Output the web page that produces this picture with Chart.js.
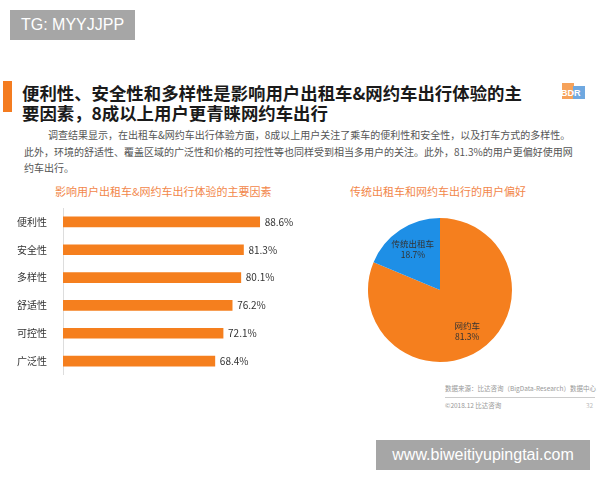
<!DOCTYPE html>
<html><head><meta charset="utf-8">
<script src="https://cdn.jsdelivr.net/npm/chart.js@4"></script>
<style>
html,body{margin:0;padding:0;background:#fff;width:600px;height:480px;overflow:hidden;font-family:"Noto Sans CJK SC","Noto Sans",sans-serif;}
.abs{position:absolute;white-space:nowrap;}
#tg{left:10px;top:10px;width:125px;height:30px;background:#a6a6a6;color:#fff;font:16px "Liberation Sans",Arial,sans-serif;line-height:30px;text-align:center;}
#wm{left:376px;top:440px;width:214px;height:30px;background:#a6a6a6;color:#fff;font:16px "Liberation Sans",Arial,sans-serif;line-height:30px;text-align:center;}
#obar{left:3px;top:81px;width:9px;height:31px;background:#F47C20;}
#title{left:22px;top:83px;font-weight:bold;font-size:17.4px;line-height:20px;color:#1a1a1a;letter-spacing:0;}
#para{left:24px;top:127px;font-size:10px;line-height:16.5px;color:#555;}
.ct{font-size:11px;color:#F2874A;}
#foot1{left:445px;top:383px;font-size:6.5px;color:#999;}
#fline{left:445px;top:397px;width:150px;height:1px;background:#ccc;}
#foot2{left:445px;top:400px;font-size:6.5px;color:#999;}
#pg{left:586px;top:400px;font-size:6.5px;color:#bbb;}
#logo{left:558px;top:79px;width:30px;height:24px;}
</style></head>
<body>
<div id="tg" class="abs">TG: MYYJJPP</div>
<div id="obar" class="abs"></div>
<div id="title" class="abs">便利性、安全性和多样性是影响用户出租车&amp;网约车出行体验的主<br>要因素，8成以上用户更青睐网约车出行</div>
<div id="logo" class="abs"><div style="position:absolute;left:4px;top:4px;width:12px;height:16px;background:#F6A25A;"></div><div style="position:absolute;left:15px;top:7px;width:12px;height:13px;background:#6FA8E0;"></div><div style="position:absolute;left:3px;top:9px;font:bold 9px 'Liberation Sans',sans-serif;color:#fff;">BDR</div></div>
<div id="para" class="abs"><span style="padding-left:24px"></span>调查结果显示，在出租车&amp;网约车出行体验方面，8成以上用户关注了乘车的便利性和安全性，以及打车方式的多样性。<br>此外，环境的舒适性、覆盖区域的广泛性和价格的可控性等也同样受到相当多用户的关注。此外，81.3%的用户更偏好使用网<br>约车出行。</div>
<div class="abs ct" style="left:55px;top:183px;">影响用户出租车&amp;网约车出行体验的主要因素</div>
<div class="abs ct" style="left:350px;top:183px;">传统出租车和网约车出行的用户偏好</div>
<div class="abs" style="left:0;top:208px;width:300px;height:167px;"><canvas id="bar"></canvas></div>
<div class="abs" style="left:360px;top:210px;width:160px;height:160px;"><canvas id="pie"></canvas></div>
<div id="foot1" class="abs">数据来源：比达咨询（BigData-Research）数据中心</div>
<div id="fline" class="abs"></div>
<div id="foot2" class="abs">©2018.12 比达咨询</div>
<div id="pg" class="abs">32</div>
<div id="wm" class="abs">www.biweitiyupingtai.com</div>
<script>
const factors = ["便利性","安全性","多样性","舒适性","可控性","广泛性"];
const factorValues = [88.6,81.3,80.1,76.2,72.1,68.4];
const pieLabels = ["网约车","传统出租车"];
const pieValues = [81.3,18.7];
const ORANGE = "#F57F1E", BLUE = "#1E8FE6";
const FONT = '"Noto Sans CJK SC","Noto Sans",sans-serif';

const barValuePlugin = {
  id:'barValues',
  afterDatasetsDraw(chart){
    const ctx = chart.ctx;
    const meta = chart.getDatasetMeta(0);
    ctx.save();
    ctx.font = '10px ' + FONT;
    ctx.fillStyle = '#333';
    ctx.textBaseline = 'middle';
    ctx.textAlign = 'left';
    meta.data.forEach((el,i)=>{
      ctx.fillText(chart.data.datasets[0].data[i].toFixed(1)+'%', el.x+5, el.y);
    });
    ctx.restore();
  }
};
new Chart(document.getElementById('bar'),{
  type:'bar',
  data:{labels:factors,datasets:[{data:factorValues,backgroundColor:ORANGE,barThickness:10}]},
  options:{
    indexAxis:'y',responsive:true,maintainAspectRatio:false,animation:false,
    layout:{padding:{left:0,right:15,top:0,bottom:0}},
    plugins:{legend:{display:false},tooltip:{enabled:false}},
    scales:{
      x:{display:false,min:0,max:100},
      y:{grid:{display:false},border:{display:true,color:'#ddd'},
         ticks:{color:'#333',font:{size:10,family:FONT},padding:8},
         afterFit(s){s.width=63;s.paddingTop=0;s.paddingBottom=0;}}
    }
  },
  plugins:[barValuePlugin]
});

const pieLabelPlugin = {
  id:'pieLabels',
  afterDatasetsDraw(chart){
    const ctx = chart.ctx;
    const meta = chart.getDatasetMeta(0);
    ctx.save();
    ctx.font = '8.5px ' + FONT;
    ctx.fillStyle = '#333';
    ctx.textAlign = 'center';
    ctx.textBaseline = 'middle';
    meta.data.forEach((arc,i)=>{
      const p = arc.getProps(['x','y','startAngle','endAngle','outerRadius']);
      const mid = (p.startAngle+p.endAngle)/2;
      const r = p.outerRadius*0.68;
      const x = p.x + Math.cos(mid)*r, y = p.y + Math.sin(mid)*r;
      ctx.fillText(chart.data.labels[i], x, y-5);
      ctx.fillText(chart.data.datasets[0].data[i].toFixed(1)+'%', x, y+6);
    });
    ctx.restore();
  }
};
new Chart(document.getElementById('pie'),{
  type:'pie',
  data:{labels:pieLabels,datasets:[{data:pieValues,backgroundColor:[ORANGE,BLUE],borderWidth:0}]},
  options:{responsive:true,maintainAspectRatio:false,animation:false,
    layout:{padding:8},
    plugins:{legend:{display:false},tooltip:{enabled:false}}},
  plugins:[pieLabelPlugin]
});
</script>
</body></html>
